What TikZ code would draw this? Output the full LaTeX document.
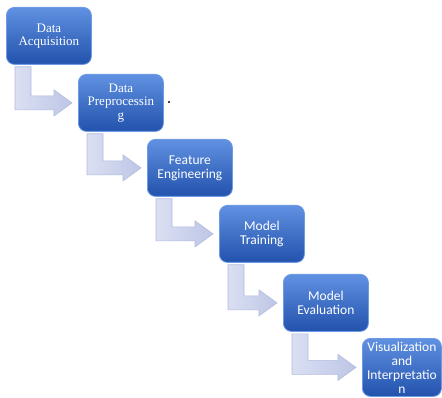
\documentclass[tikz,border=0pt]{standalone}
\usepackage{fontspec}
\setmainfont{Liberation Serif}
\newfontfamily\calibri{Carlito}
\usetikzlibrary{calc}

\definecolor{boxtop}{RGB}{96,145,225}
\definecolor{boxbot}{RGB}{34,82,172}
\definecolor{boxedge}{RGB}{110,155,230}
\definecolor{arrowlight}{RGB}{218,223,242}
\definecolor{arrowdark}{RGB}{190,198,230}
\definecolor{arrowedge}{RGB}{178,187,222}

\tikzset{
  stage/.style={draw=boxedge, line width=0.8pt, rounded corners=8pt,
    top color=boxtop, bottom color=boxbot, text=white, align=center,
    minimum width=85pt, minimum height=57pt, inner sep=1pt, anchor=north west},
  serifstage/.style={stage, font=\fontsize{13}{13.5}\selectfont},
  sansstage/.style={stage, font=\calibri\fontsize{13.5}{14}\selectfont},
  elbowarrow/.style={left color=arrowlight, right color=arrowdark,
    draw=arrowedge, line width=0.6pt}
}

% bent arrow from under one stage into the left side of the next
\newcommand{\elbow}[2]{%
  \path[elbowarrow] let \p1=(#1.south west), \p2=(#2.west) in
    (\x1+9pt,\y1-2pt) -- (\x1+25pt,\y1-2pt) -- (\x1+25pt,\y2+7pt)
    -- (\x2-24pt,\y2+7pt) -- (\x2-24pt,\y2+13pt) -- (\x2-6pt,\y2)
    -- (\x2-24pt,\y2-13pt) -- (\x2-24pt,\y2-7pt) -- (\x1+9pt,\y2-7pt)
    -- cycle;}

\begin{document}
\begin{tikzpicture}[x=1pt, y=-1pt]
  \useasboundingbox (0,0) rectangle (442,398);

  \node[serifstage] (acq) at (6,7) {Data\\Acquisition};
  \node[serifstage] (prep) at (78,74) {Data\\Preprocessin\\g};
  \node[sansstage] (feat) at (147,139) {Feature\\Engineering};
  \node[sansstage] (train) at (219,205) {Model\\Training};
  \node[sansstage] (eval) at (283,274) {Model\\Evaluation};
  \node[sansstage, minimum width=79pt, minimum height=58pt] (vis) at (362,338)
    {Visualization\\and\\Interpretatio\\n};

  \elbow{acq}{prep}
  \elbow{prep}{feat}
  \elbow{feat}{train}
  \elbow{train}{eval}
  \elbow{eval}{vis}

  \fill (169,102) circle [radius=1.1];
\end{tikzpicture}
\end{document}
